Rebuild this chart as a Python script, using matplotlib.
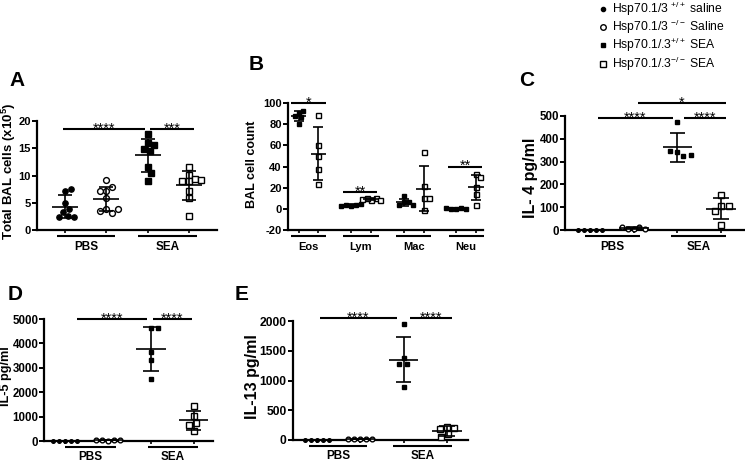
import numpy as np
import matplotlib
matplotlib.use('Agg')
import matplotlib.pyplot as plt
from matplotlib.lines import Line2D
from matplotlib.transforms import offset_copy

plt.rcParams['font.family'] = ['Liberation Sans', 'DejaVu Sans']
plt.rcParams['mathtext.fontset'] = 'custom'
plt.rcParams['mathtext.rm'] = 'Liberation Sans'
plt.rcParams['mathtext.it'] = 'Liberation Sans:italic'
plt.rcParams['mathtext.bf'] = 'Liberation Sans:bold'

# ---------------- data ----------------
treatments = ['PBS', 'SEA']
legend_labels = ['Hsp70.1/3 $^{+/+}$ saline', 'Hsp70.1/3 $^{-/-}$ Saline',
                 'Hsp70.1/.3$^{+/+}$ SEA', 'Hsp70.1/.3$^{-/-}$ SEA']

# A: total BAL cells (x10^5)
a_pbs_wt = [7.2, 7.5, 4.9, 3.9, 3.3, 2.5, 2.4, 2.4]
a_pbs_ko = [9.2, 7.2, 7.8, 7.2, 5.9, 3.8, 3.2, 3.5, 3.8]
a_sea_wt = [17.6, 15.9, 15.6, 14.9, 14.5, 11.5, 10.5, 9.0]
a_sea_ko = [11.6, 10.1, 8.9, 9.3, 9.0, 9.1, 7.2, 5.8, 2.6]

# B: BAL cell count (differential)
b_cells = ['Eos', 'Lym', 'Mac', 'Neu']
b_sea_wt = [[91, 92, 87, 88, 80], [3, 4, 4, 5, 3], [12, 6, 6, 4, 4], [0, 1, 0, 0, 1]]
b_sea_ko = [[89, 60, 50, 38, 23], [8, 10, 10, 8, 9], [54, 10, 10, 22, -1], [33, 30, 21, 14, 4]]

# C: IL-4 pg/ml
c_pbs_wt = [0, 0, 0, 0, 0]
c_pbs_ko = [3, 14, 6, 5, 11]
c_sea_wt = [474, 343, 323, 345, 330]
c_sea_ko = [152, 104, 104, 84, 22]

# D: IL-5 pg/ml
d_pbs_wt = [0, 0, 0, 0, 0]
d_pbs_ko = [20, 60, 40, 30, 50]
d_sea_wt = [4650, 4650, 3650, 3300, 2550]
d_sea_ko = [1430, 1030, 740, 650, 410]

# E: IL-13 pg/ml
e_pbs_wt = [0, 0, 0, 0, 0]
e_pbs_ko = [10, 25, 15, 10, 20]
e_sea_wt = [1950, 1384, 1272, 1272, 885]
e_sea_ko = [225, 205, 185, 100, 45]

# ---------------- figure ----------------
W, H, DPI = 745, 463, 100
fig = plt.figure(figsize=(W / DPI, H / DPI), dpi=DPI)
fig.patch.set_facecolor('white')


def px_axes(l, t, r, b):
    return fig.add_axes([l / W, 1 - b / H, (r - l) / W, (b - t) / H])


def style(ax, xlim, ylim, yticks, fs, positions, pad=1):
    ax.set_xlim(xlim)
    ax.set_ylim(ylim)
    for s in ['top', 'right']:
        ax.spines[s].set_visible(False)
    for s in ['left', 'bottom']:
        ax.spines[s].set_linewidth(1.6)
    ax.set_yticks(yticks)
    ax.set_yticklabels([str(v) for v in yticks], fontsize=fs, fontweight='bold')
    ax.set_xticks(positions)
    ax.set_xticklabels([])
    ax.tick_params(axis='y', direction='out', length=3.5, width=1.4, pad=pad)
    ax.tick_params(axis='x', direction='out', length=2.5, width=1.2)
    ax.patch.set_alpha(0)


def swarm(ax, pos, vals, d_px):
    pts = ax.transData.transform(np.column_stack([np.full(len(vals), pos), vals]))
    placed = []
    offs = []
    for y in pts[:, 1]:
        cands = [0.0]
        for (px, py) in placed:
            dy = abs(y - py)
            if dy < d_px:
                dx = np.sqrt(d_px ** 2 - dy ** 2)
                cands += [px - dx, px + dx]
        cands = sorted(cands, key=lambda c: (round(abs(c), 6), -c))
        chosen = 0.0
        for c in cands:
            if all((c - px) ** 2 + (y - py) ** 2 >= d_px ** 2 - 1e-6 for px, py in placed):
                chosen = c
                break
        placed.append((chosen, y))
        offs.append(chosen)
    xl = ax.get_xlim()
    per_px = (xl[1] - xl[0]) / ax.bbox.width
    return pos + np.array(offs) * per_px


def plot_group(ax, pos, vals, marker, filled, ms, d_px, mean_hw, cap_hw, lw=1.2, mew=1.0):
    vals = np.asarray(vals, float)
    xs = swarm(ax, pos, vals, d_px)
    ax.plot(xs, vals, linestyle='none', marker=marker, ms=ms,
            mfc='black' if filled else 'white', mec='black', mew=mew,
            clip_on=False, zorder=3)
    m = vals.mean()
    sd = vals.std(ddof=1)
    ax.hlines(m, pos - mean_hw, pos + mean_hw, color='black', lw=lw, zorder=4, clip_on=False)
    ax.hlines([m - sd, m + sd], pos - cap_hw, pos + cap_hw, color='black', lw=lw, zorder=4, clip_on=False)
    ax.vlines(pos, m - sd, m + sd, color='black', lw=lw, zorder=4, clip_on=False)


def sig(ax, x1, x2, y, stars, fs=10.5):
    ax.plot([x1, x2], [y, y], color='black', lw=1.5, clip_on=False, solid_capstyle='butt')
    tr = offset_copy(ax.transData, fig=fig, y=-2.6, units='points')
    ax.text((x1 + x2) / 2, y, stars, ha='center', va='baseline', fontsize=fs,
            transform=tr, clip_on=False)


def underline(ax, x1, x2, label, fs=8.5, off_line=5.5, off_text=17):
    h = ax.bbox.height
    tr = ax.get_xaxis_transform()
    ax.plot([x1, x2], [-off_line / h, -off_line / h], color='black', lw=1.5,
            transform=tr, clip_on=False, solid_capstyle='butt')
    ax.text((x1 + x2) / 2, -off_text / h, label, transform=tr, ha='center', va='center',
            fontsize=fs, fontweight='bold')


def ylab(x, y, s, fs):
    fig.text(x / W, 1 - y / H, s, rotation=90, ha='center', va='center',
             fontsize=fs, fontweight='bold')


def letter(x, y, s):
    fig.text(x / W, 1 - y / H, s, ha='center', va='center', fontsize=15, fontweight='bold')


pos4 = [0, 1, 2, 3]

# ---------------- Panel A ----------------
axA = px_axes(37, 121, 217, 230)
style(axA, (-0.677, 3.68), (0, 20), [0, 5, 10, 15, 20], 8, pos4)
plot_group(axA, 0, a_pbs_wt, 'o', True, 3.8, 6.5, 0.315, 0.17)
plot_group(axA, 1, a_pbs_ko, 'o', False, 4.2, 6.5, 0.315, 0.17)
plot_group(axA, 2, a_sea_wt, 's', True, 3.8, 6.5, 0.315, 0.17)
plot_group(axA, 3, a_sea_ko, 's', False, 4.2, 6.5, 0.315, 0.17)
sig(axA, -0.05, 1.94, 18.5, '****')
sig(axA, 2.06, 3.12, 18.5, '***')
underline(axA, -0.19, 1.21, treatments[0])
underline(axA, 1.77, 3.19, treatments[1])
ylab(8.5, 171, 'Total BAL cells (x10$^{\\mathbf{5}}$)', 9.5)
letter(17, 81, 'A')

# ---------------- Panel B ----------------
axB = px_axes(288, 103, 483, 230)
bpos = []
for i in range(4):
    bpos += [i - 0.19, i + 0.19]
style(axB, (-0.39, 3.32), (-20, 100), [-20, 0, 20, 40, 60, 80, 100], 8, bpos)
for i in range(4):
    plot_group(axB, i - 0.19, b_sea_wt[i], 's', True, 3.3, 5.0, 0.15, 0.095)
    plot_group(axB, i + 0.19, b_sea_ko[i], 's', False, 3.6, 5.0, 0.15, 0.095)
    underline(axB, i - 0.335, i + 0.335, b_cells[i], fs=8, off_line=6, off_text=16.5)
sig(axB, -0.33, 0.33, 100, '*')
sig(axB, 1 - 0.34, 1 + 0.31, 16, '**')
sig(axB, 3 - 0.34, 3 + 0.31, 40, '**')
ylab(252, 164, 'BAL cell count', 9)
letter(256, 64, 'B')

# ---------------- Panel C ----------------
axC = px_axes(565, 116, 744, 230)
style(axC, (-0.568, 3.52), (0, 500), [0, 100, 200, 300, 400, 500], 8.3, pos4)
plot_group(axC, 0, c_pbs_wt, 'o', True, 2.6, 6.0, 0.34, 0.18)
plot_group(axC, 1, c_pbs_ko, 'o', False, 3.4, 6.0, 0.34, 0.18)
plot_group(axC, 2, c_sea_wt, 's', True, 3.4, 7.5, 0.34, 0.18)
plot_group(axC, 3, c_sea_ko, 's', False, 3.8, 7.5, 0.34, 0.18)
sig(axC, 0.18, 1.89, 491, '****')
sig(axC, 2.16, 3.11, 491, '****')
sig(axC, 1.09, 3.11, 557, '*')
underline(axC, -0.10, 1.14, treatments[0])
underline(axC, 1.86, 3.11, treatments[1])
ylab(530, 178, 'IL- 4 pg/ml', 11.5)
letter(527, 80, 'C')

# ---------------- Panel D ----------------
axD = px_axes(44, 319, 213, 441)
style(axD, (-0.5, 3.45), (0, 5000), [0, 1000, 2000, 3000, 4000, 5000], 8.3, pos4, pad=0.6)
plot_group(axD, 0, d_pbs_wt, 'o', True, 2.6, 6.0, 0.34, 0.18)
plot_group(axD, 1, d_pbs_ko, 'o', False, 3.4, 6.0, 0.34, 0.18)
plot_group(axD, 2, d_sea_wt, 's', True, 3.4, 7.5, 0.34, 0.18)
plot_group(axD, 3, d_sea_ko, 's', False, 3.8, 7.5, 0.34, 0.18)
sig(axD, 0.28, 1.91, 5000, '****')
sig(axD, 2.05, 2.95, 5000, '****')
underline(axD, -0.02, 1.19, treatments[0], off_text=16)
underline(axD, 1.93, 3.09, treatments[1], off_text=16)
ylab(6.5, 376, 'IL-5 pg/ml', 9.2)
letter(15, 295, 'D')

# ---------------- Panel E ----------------
axE = px_axes(293, 321, 468, 440)
style(axE, (-0.554, 3.49), (0, 2000), [0, 500, 1000, 1500, 2000], 8.7, pos4)
plot_group(axE, 0, e_pbs_wt, 'o', True, 2.6, 6.0, 0.34, 0.18)
plot_group(axE, 1, e_pbs_ko, 'o', False, 3.4, 6.0, 0.34, 0.18)
plot_group(axE, 2, e_sea_wt, 's', True, 3.4, 7.5, 0.34, 0.18)
plot_group(axE, 3, e_sea_ko, 's', False, 3.8, 7.5, 0.34, 0.18)
sig(axE, 0.07, 1.85, 2050, '****')
sig(axE, 2.15, 3.12, 2050, '****')
underline(axE, -0.18, 1.15, treatments[0], off_text=16)
underline(axE, 1.76, 3.12, treatments[1], off_text=16)
ylab(252, 377, 'IL-13 pg/ml', 11.5)
letter(242, 295, 'E')

# ---------------- Legend ----------------
leg_markers = [('o', True, 3.0), ('o', False, 4.0), ('s', True, 3.2), ('s', False, 4.2)]
leg_rows = [9.0, 27.0, 45.0, 63.5]
for (mk, filled, ms), yy, lab in zip(leg_markers, leg_rows, legend_labels):
    fig.add_artist(Line2D([603 / W], [1 - yy / H], transform=fig.transFigure,
                          marker=mk, ms=ms, mfc='black' if filled else 'white',
                          mec='black', mew=1.0, linestyle='none'))
    fig.text(612 / W, 1 - yy / H, lab, ha='left', va='center', fontsize=8.7)

fig.savefig('out.png', dpi=DPI, facecolor='white')
